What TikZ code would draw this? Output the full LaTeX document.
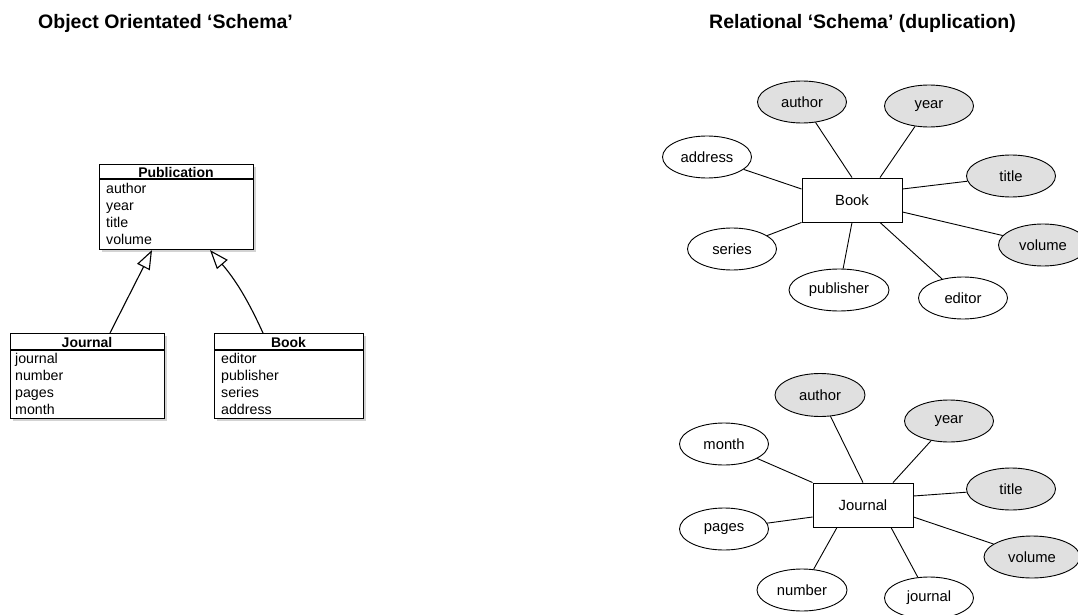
\documentclass[tikz,border=0pt]{standalone}
\usepackage{fontspec}
\setmainfont{Liberation Sans}
\usetikzlibrary{arrows.meta,shapes.geometric,shadows,calc}
\definecolor{ergray}{RGB}{224,224,224}
\begin{document}
\begin{tikzpicture}[x=1pt,y=-1pt,
  titletext/.style={font=\fontsize{19.5}{23}\selectfont\bfseries, inner sep=0pt, anchor=base west},
  umlbox/.style={draw, line width=1.1pt, fill=white, inner sep=0pt, anchor=north west,
    drop shadow={shadow xshift=2pt,shadow yshift=-2pt,opacity=0.35}},
  umlhead/.style={font=\fontsize{14}{16}\selectfont\bfseries, inner sep=0pt, anchor=base},
  umlattr/.style={font=\fontsize{14.2}{17}\selectfont, inner sep=0pt, anchor=base west},
  umlrule/.style={line width=1.1pt},
  entity/.style={draw, line width=0.9pt, fill=white, minimum width=100pt, minimum height=44pt, inner sep=0pt,
    font=\fontsize{14.8}{17}\selectfont},
  attr/.style={ellipse, draw, line width=0.9pt, fill=white, minimum width=89pt, minimum height=42pt,
    inner sep=0pt, font=\fontsize{14.8}{17}\selectfont},
  keyattr/.style={attr, fill=ergray},
  link/.style={line width=0.9pt},
  inherit/.style={line width=1.1pt, -{Triangle[fill=white,length=19pt,width=14pt]}}]
\useasboundingbox (0,0) rectangle (1078,615);

% titles
\node[titletext] (t1) at (38,29) {Object Orientated ‘Schema’};
\node[titletext] (t2) at (709,29) {Relational ‘Schema’ (duplication)};

% UML classes
\node[umlbox, minimum width=154pt, minimum height=85pt] (pub) at (99,164) {};
\draw[umlrule] ($(pub.north west)+(0,15)$) -- ($(pub.north east)+(0,15)$);
\node[umlhead] (pubname) at (176,177) {Publication};
\foreach \t [count=\i] in {author,year,title,volume}
  \node[umlattr] (pubattr\i) at (106,176+17*\i) {\t};

\node[umlbox, minimum width=154pt, minimum height=85pt] (jnl) at (10,333) {};
\draw[umlrule] ($(jnl.north west)+(0,17)$) -- ($(jnl.north east)+(0,17)$);
\node[umlhead] (jnlname) at (87,347) {Journal};
\foreach \t [count=\i] in {journal,number,pages,month}
  \node[umlattr] (jnlattr\i) at (15,346+17*\i) {\t};

\node[umlbox, minimum width=149pt, minimum height=85pt] (bk) at (214,333) {};
\draw[umlrule] ($(bk.north west)+(0,17)$) -- ($(bk.north east)+(0,17)$);
\node[umlhead] (bkname) at (288.5,347) {Book};
\foreach \t [count=\i] in {editor,publisher,series,address}
  \node[umlattr] (bkattr\i) at (221,346+17*\i) {\t};

\draw[inherit] ($(jnl.north west)+(100,0)$) -- ($(pub.south west)+(53,0)$);
\draw[inherit] ($(bk.north west)+(49,0)$) to[bend right=8] ($(pub.south west)+(111,0)$);

% ER: Book
\node[entity] (book) at (852,200) {Book};
\node[keyattr] (bauthor) at (802,102) {author};
\node[keyattr] (byear) at (929,106) {year};
\node[attr] (baddress) at (707,157) {address};
\node[keyattr] (btitle) at (1011,176) {title};
\node[attr] (bseries) at (732,249) {series};
\node[keyattr] (bvolume) at (1043,245) {volume};
\node[attr, minimum width=100pt] (bpublisher) at (839,290) {publisher};
\node[attr] (beditor) at (963,298) {editor};

\draw[link] (book.north) -- (bauthor);
\draw[link] ($(book.north)+(28,0)$) -- (byear);
\draw[link] ($(book.west)+(0,-11)$) -- (baddress);
\draw[link] ($(book.east)+(0,-11)$) -- (btitle);
\draw[link] ($(book.east)+(0,12)$) -- (bvolume);
\draw[link] (book.south west) -- (bseries);
\draw[link] (book.south) -- (bpublisher);
\draw[link] ($(book.south)+(28,0)$) -- (beditor);

% ER: Journal
\node[entity] (jr) at (863,505) {Journal};
\node[keyattr, minimum width=90pt, minimum height=43pt] (jauthor) at (820,395) {author};
\node[keyattr] (jyear) at (949,421) {year};
\node[attr] (jmonth) at (724,444) {month};
\node[keyattr] (jtitle) at (1011,489) {title};
\node[attr] (jpages) at (724,529) {pages};
\node[keyattr, minimum width=96pt] (jvolume) at (1032,557) {volume};
\node[attr, minimum width=90pt] (jnumber) at (802,590) {number};
\node[attr] (jjournal) at (929,598) {journal};

\draw[link] (jr.north) -- (jauthor);
\draw[link] ($(jr.north)+(30,0)$) -- (jyear);
\draw[link] (jr.north west) -- (jmonth);
\draw[link] ($(jr.east)+(0,-9)$) -- (jtitle);
\draw[link] ($(jr.west)+(0,12)$) -- (jpages);
\draw[link] ($(jr.east)+(0,12)$) -- (jvolume);
\draw[link] ($(jr.south)+(-26,0)$) -- (jnumber);
\draw[link] ($(jr.south)+(28,0)$) -- (jjournal);
\end{tikzpicture}
\end{document}
